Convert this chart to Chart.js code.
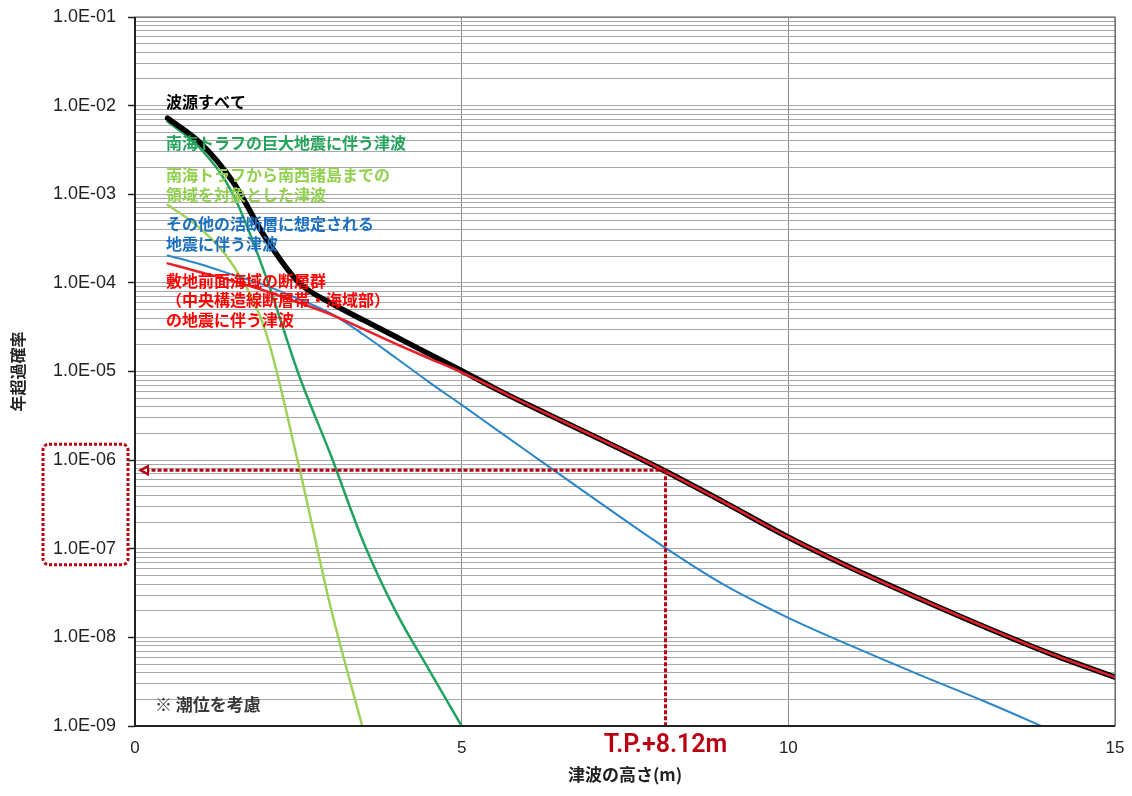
<!DOCTYPE html>
<html>
<head>
<meta charset="utf-8">
<script src="https://cdn.jsdelivr.net/npm/chart.js@4/dist/chart.umd.min.js"></script>
<style>
  html, body { margin: 0; padding: 0; background: #fff; }
  #wrap { width: 1132px; height: 796px; }
</style>
</head>
<body>
<div id="wrap"><canvas id="hazard" width="1132" height="796"></canvas></div>
<script>
// tsunami height (m)
const heights = [0.5, 1, 1.5, 2, 2.5, 3, 3.5, 4, 4.5, 5, 5.5, 6, 7, 8, 9, 10, 11, 12, 13, 14, 15];

// annual exceedance probability per source
const allSources = [7.2e-3, 3.8e-3, 1.38e-3, 3.2e-4, 1.02e-4, 5.9e-5, 3.8e-5, 2.45e-5, 1.58e-5, 1.02e-5, 6.5e-6, 4.27e-6, 1.9e-6, 8.3e-7, 3.4e-7, 1.35e-7, 5.9e-8, 2.75e-8, 1.32e-8, 6.6e-9, 3.55e-9];
const nankaiTrough = [6.6e-3, 3.3e-3, 1.0e-3, 1.2e-4, 9.5e-6, 1.12e-6, 1.17e-7, 1.9e-8, 4.3e-9, 1.0e-9, null, null, null, null, null, null, null, null, null, null, null];
const nankaiToNansei = [7.6e-4, 4.1e-4, 1.58e-4, 2.8e-5, 9.1e-7, 2.1e-8, 8.7e-10, null, null, null, null, null, null, null, null, null, null, null, null, null, null];
const activeFaults = [2.04e-4, 1.62e-4, 1.23e-4, 9.3e-5, 6.6e-5, 4.5e-5, 2.6e-5, 1.41e-5, 7.6e-6, 4.2e-6, 2.3e-6, 1.26e-6, 3.8e-7, 1.17e-7, 3.98e-8, 1.66e-8, 7.8e-9, 3.8e-9, 1.9e-9, 9.1e-10, null];
const offshoreFaults = [1.66e-4, 1.32e-4, 1.05e-4, 8.1e-5, 6.0e-5, 4.4e-5, 3.0e-5, 2.04e-5, 1.41e-5, 9.8e-6, 6.5e-6, 4.27e-6, 1.9e-6, 8.3e-7, 3.4e-7, 1.35e-7, 5.9e-8, 2.75e-8, 1.32e-8, 6.6e-9, 3.55e-9];

// reference point (T.P.+8.12m)
const refHeight = 8.12;
const refProb = 7.7e-7;

// axis ticks
const xTicks = [0, 5, 10, 15];
const yDecades = [-9, -8, -7, -6, -5, -4, -3, -2, -1];

// legend texts drawn inside the plot
const legendLines = [
  { text: '波源すべて', color: '#000000', y: 102 },
  { text: '南海トラフの巨大地震に伴う津波', color: '#24a35a', y: 143 },
  { text: '南海トラフから南西諸島までの', color: '#92d050', y: 175 },
  { text: '領域を対象とした津波', color: '#92d050', y: 195 },
  { text: 'その他の活断層に想定される', color: '#1a6fc0', y: 224 },
  { text: '地震に伴う津波', color: '#1a6fc0', y: 244 },
  { text: '敷地前面海域の断層群', color: '#ff0000', y: 281 },
  { text: '（中央構造線断層帯・海域部）', color: '#ff0000', y: 300 },
  { text: 'の地震に伴う津波', color: '#ff0000', y: 320 }
];

const DARK_RED = '#b80012';
const CJK = '"Noto Sans CJK JP", "Noto Sans", sans-serif';
const LATIN = '"Liberation Sans", Arial, sans-serif';

function pts(values) {
  return heights.map((h, i) => ({ x: h, y: values[i] }));
}

function fmtExp(v) {
  const e = Math.round(Math.log10(v));
  const sign = e < 0 ? '-' : '+';
  return '1.0E' + sign + String(Math.abs(e)).padStart(2, '0');
}

function isDecade(v) {
  const l = Math.log10(v);
  return Math.abs(l - Math.round(l)) < 1e-6;
}

const overlayPlugin = {
  id: 'overlay',
  afterDatasetsDraw(chart) {
    const ctx = chart.ctx;
    const area = chart.chartArea;
    const xs = chart.scales.x;
    const ys = chart.scales.y;

    // reference arrow
    const px = xs.getPixelForValue(refHeight);
    const py = ys.getPixelForValue(refProb);
    ctx.save();
    ctx.strokeStyle = DARK_RED;
    ctx.lineWidth = 3;
    ctx.setLineDash([4, 2]);
    ctx.beginPath();
    ctx.moveTo(px, py);
    ctx.lineTo(area.left + 12, py);
    ctx.moveTo(px, py);
    ctx.lineTo(px, area.bottom);
    ctx.stroke();
    ctx.setLineDash([]);
    ctx.fillStyle = DARK_RED;
    ctx.beginPath();
    ctx.moveTo(area.left + 3, py);
    ctx.lineTo(area.left + 14, py - 6);
    ctx.lineTo(area.left + 14, py + 6);
    ctx.closePath();
    ctx.fill();
    ctx.fillStyle = '#fff';
    ctx.beginPath();
    ctx.moveTo(area.left + 8, py);
    ctx.lineTo(area.left + 12, py - 2);
    ctx.lineTo(area.left + 12, py + 2);
    ctx.closePath();
    ctx.fill();
    ctx.restore();

    // legend labels
    ctx.save();
    ctx.font = 'bold 16px ' + CJK;
    ctx.textBaseline = 'middle';
    ctx.textAlign = 'left';
    legendLines.forEach(l => {
      ctx.fillStyle = l.color;
      ctx.fillText(l.text, 166, l.y);
    });
    ctx.fillStyle = '#3a3a3a';
    ctx.font = 'bold 17px ' + CJK;
    ctx.fillText('※ 潮位を考慮', 155, 705);
    ctx.restore();

    // plot frame
    ctx.save();
    ctx.strokeStyle = '#555';
    ctx.lineWidth = 1;
    ctx.strokeRect(area.left, area.top, area.right - area.left, area.bottom - area.top);
    ctx.strokeStyle = '#222';
    ctx.lineWidth = 2;
    ctx.beginPath();
    ctx.moveTo(area.left, area.top);
    ctx.lineTo(area.left, area.bottom);
    ctx.lineTo(area.right, area.bottom);
    ctx.stroke();
    ctx.restore();
  },
  afterDraw(chart) {
    const ctx = chart.ctx;
    const xs = chart.scales.x;
    const ys = chart.scales.y;
    const px = xs.getPixelForValue(refHeight);

    ctx.save();
    ctx.fillStyle = DARK_RED;
    ctx.font = '600 25px "Liberation Sans Narrow", "Roboto", sans-serif';
    ctx.textAlign = 'center';
    ctx.textBaseline = 'middle';
    ctx.fillText('T.P.+8.12m', px, 746);

    // dotted box around 1.0E-06 .. 1.0E-07 labels
    const top = ys.getPixelForValue(1e-6) - 16;
    const bottom = ys.getPixelForValue(1e-7) + 16;
    ctx.strokeStyle = DARK_RED;
    ctx.lineWidth = 3;
    ctx.setLineDash([3, 2]);
    ctx.beginPath();
    ctx.roundRect(43, top, 85, bottom - top, 6);
    ctx.stroke();
    ctx.restore();
  }
};

const ctx = document.getElementById('hazard');
new Chart(ctx, {
  type: 'line',
  data: {
    datasets: [
      {
        label: '敷地前面海域の断層群の地震に伴う津波',
        data: pts(offshoreFaults),
        borderColor: '#e8202a',
        borderWidth: 2.5,
        order: 0
      },
      {
        label: '波源すべて',
        data: pts(allSources),
        borderColor: '#000000',
        borderWidth: 5.5,
        order: 1
      },
      {
        label: 'その他の活断層に想定される地震に伴う津波',
        data: pts(activeFaults),
        borderColor: '#2a86c8',
        borderWidth: 2,
        order: 2
      },
      {
        label: '南海トラフの巨大地震に伴う津波',
        data: pts(nankaiTrough),
        borderColor: '#20a35e',
        borderWidth: 2.5,
        order: 3
      },
      {
        label: '南海トラフから南西諸島までの領域を対象とした津波',
        data: pts(nankaiToNansei),
        borderColor: '#9fd25a',
        borderWidth: 2.5,
        order: 4
      }
    ]
  },
  options: {
    responsive: false,
    animation: false,
    devicePixelRatio: 1,
    layout: { padding: { top: 17, right: 17, bottom: 5, left: 0 } },
    elements: {
      point: { radius: 0, hoverRadius: 0 },
      line: { cubicInterpolationMode: 'monotone', borderCapStyle: 'round', borderJoinStyle: 'round' }
    },
    plugins: {
      legend: { display: false },
      tooltip: { enabled: false }
    },
    scales: {
      x: {
        type: 'linear',
        min: 0,
        max: 15,
        afterBuildTicks: (scale) => { scale.ticks = xTicks.map(v => ({ value: v })); },
        afterFit: (scale) => {
          scale.height = 65;
          scale.paddingLeft = 0;
          scale.paddingRight = 0;
        },
        ticks: {
          color: '#222',
          padding: 12,
          font: { family: LATIN, size: 17 }
        },
        grid: { color: '#8c8c8c', lineWidth: 1, drawTicks: false },
        border: { display: false },
        title: {
          display: true,
          text: '津波の高さ(m)',
          color: '#222',
          padding: { top: 0, bottom: 6 },
          font: { family: CJK, size: 17, weight: 'bold' }
        }
      },
      y: {
        type: 'logarithmic',
        min: 1e-9,
        max: 1e-1,
        afterBuildTicks: (scale) => {
          const t = [];
          yDecades.forEach(e => {
            const top = e === -1 ? 1 : 9;
            for (let m = 1; m <= top; m++) t.push({ value: m * Math.pow(10, e) });
          });
          scale.ticks = t;
        },
        afterFit: (scale) => {
          scale.width = 135;
          scale.paddingTop = 0;
          scale.paddingBottom = 0;
        },
        ticks: {
          autoSkip: false,
          color: '#222',
          padding: 12,
          font: { family: LATIN, size: 18 },
          callback: (v) => isDecade(v) ? fmtExp(v) : ''
        },
        grid: {
          color: '#a8a8a8',
          lineWidth: 1,
          tickLength: 7,
          tickColor: (c) => (c.tick && isDecade(c.tick.value)) ? '#222' : 'rgba(0,0,0,0)',
          tickWidth: 1.5
        },
        border: { display: false },
        title: {
          display: true,
          text: '年超過確率',
          color: '#222',
          padding: { top: 8, bottom: 0 },
          font: { family: CJK, size: 16, weight: 'bold' }
        }
      }
    }
  },
  plugins: [overlayPlugin]
});
</script>
</body>
</html>
